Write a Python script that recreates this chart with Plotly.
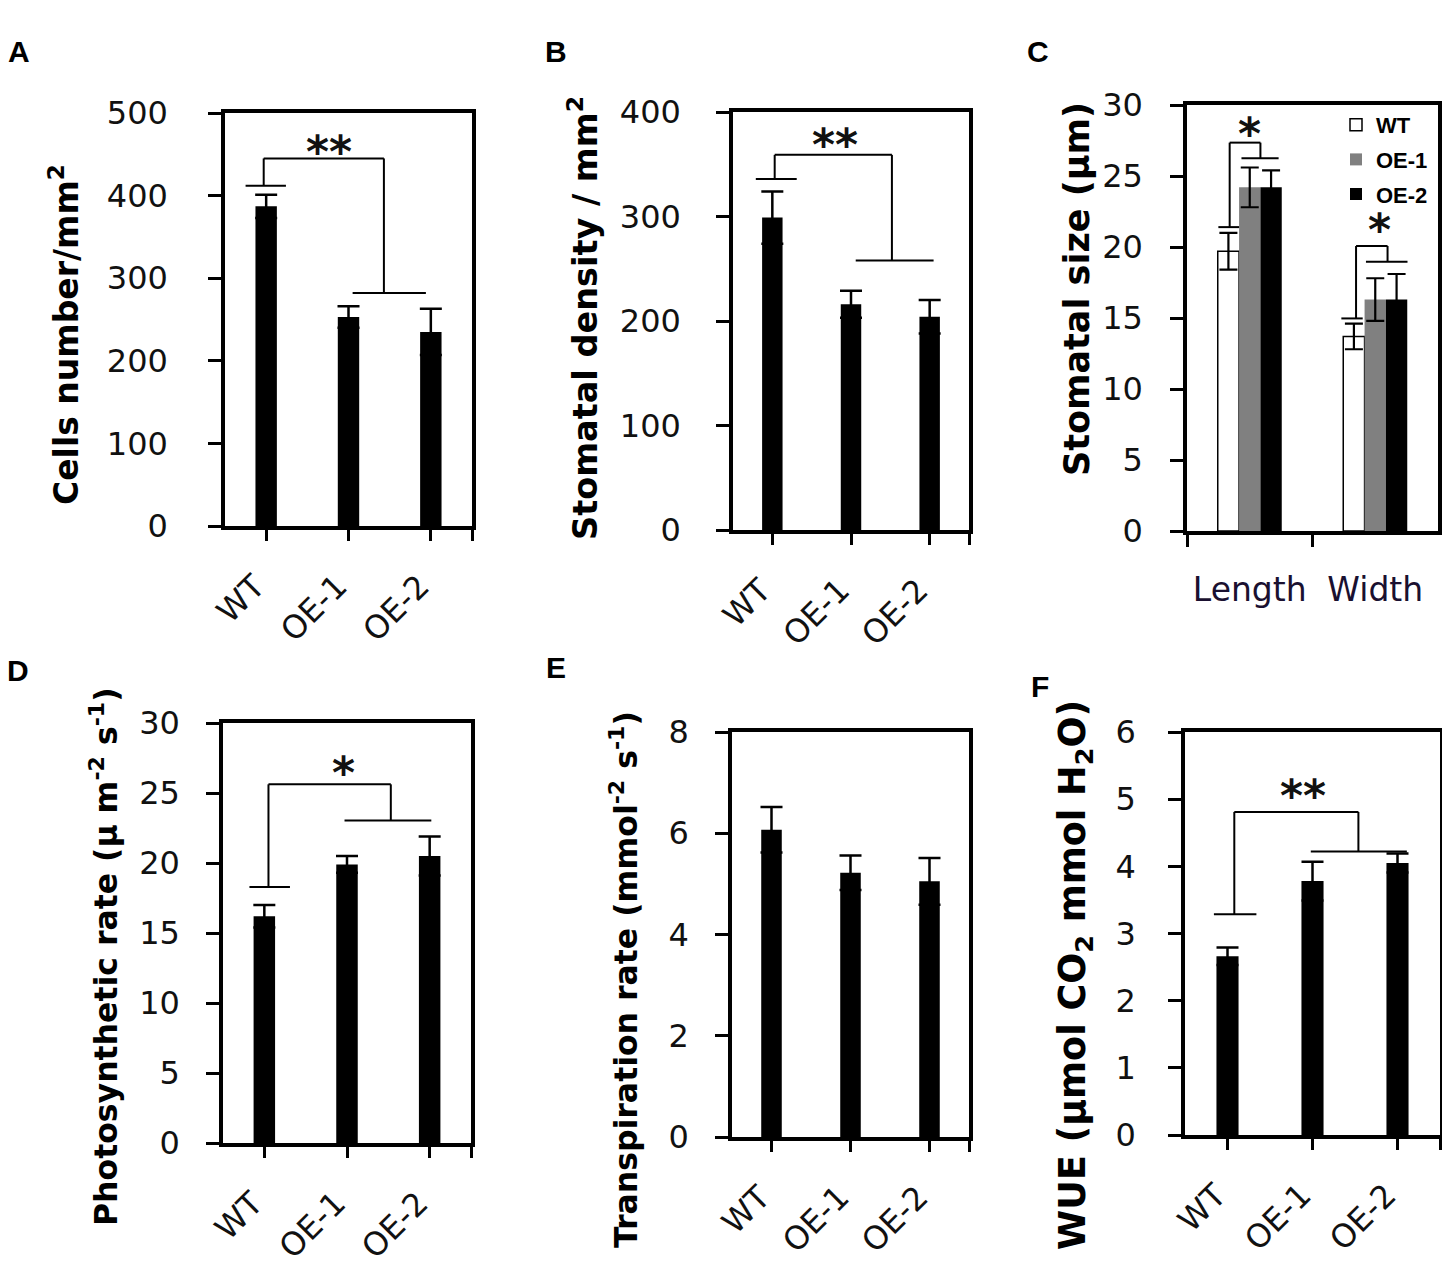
import plotly.graph_objects as go

W, H = 1450, 1267

# ---------------- data ----------------
genotypes = ["WT", "OE-1", "OE-2"]

cells = [387, 253, 235]
cells_err = [14, 13, 28]

density = [299, 216, 204]
density_err = [25, 13, 16]

size_cats = ["Length", "Width"]
size_wt = [19.7, 13.7]
size_wt_err = [1.3, 0.9]
size_oe1 = [24.2, 16.3]
size_oe1_err = [1.4, 1.5]
size_oe2 = [24.2, 16.3]
size_oe2_err = [1.2, 1.8]

photo = [16.2, 19.9, 20.5]
photo_err = [0.8, 0.6, 1.4]

transp = [6.07, 5.22, 5.05]
transp_err = [0.45, 0.34, 0.46]

wue = [2.66, 3.78, 4.05]
wue_err = [0.13, 0.29, 0.14]

# ---------------- helpers ----------------
OFF = 8  # page body margin of the browser


def fx(px):
    return (px - OFF) / W


def fy(py):
    return 1 - (py - OFF) / H


FRAME_W = 3.5
TICK_FONT = dict(family="DejaVu Sans", size=32, color="#111111")
XTICK_FONT = dict(family="DejaVu Sans", size=32, color="#111111")
TITLE_FAM = "DejaVu Sans"

fig = go.Figure()

# panel geometry in pixels: (x0, x1, ytop, ybottom)
panels = {
    "A": dict(idx=1, box=(225, 472, 113, 526), ymax=500, dtick=100, ystand=34,
              vals=cells, errs=cells_err),
    "B": dict(idx=2, box=(733, 969, 112, 530), ymax=400, dtick=100, ystand=29,
              vals=density, errs=density_err),
    "D": dict(idx=4, box=(223, 471, 723, 1143), ymax=30, dtick=5, ystand=20,
              vals=photo, errs=photo_err),
    "E": dict(idx=5, box=(732, 969, 732, 1137), ymax=8, dtick=2, ystand=20,
              vals=transp, errs=transp_err),
    "F": dict(idx=6, box=(1185, 1440, 732, 1135), ymax=6, dtick=1, ystand=26,
              vals=wue, errs=wue_err),
}
panelC = dict(idx=3, box=(1187, 1438, 105, 531), ymax=30, dtick=5, ystand=21)


def axis_names(i):
    return ("x" if i == 1 else f"x{i}", "y" if i == 1 else f"y{i}")


def layout_names(i):
    return ("xaxis" if i == 1 else f"xaxis{i}", "yaxis" if i == 1 else f"yaxis{i}")


common_axis = dict(showline=True, mirror=True, linewidth=FRAME_W, linecolor="black",
                   ticks="outside", tickwidth=3, tickcolor="black", showgrid=False,
                   zeroline=False, tickfont=TICK_FONT, fixedrange=True,
                   automargin=False)

layout_axes = {}

for key, p in panels.items():
    i = p["idx"]
    xn, yn = axis_names(i)
    xl, yl = layout_names(i)
    x0, x1, yt, yb = p["box"]
    fig.add_trace(go.Bar(
        x=list(range(len(genotypes))), y=p["vals"], xaxis=xn, yaxis=yn,
        width=0.26, marker=dict(color="black", line=dict(width=0)),
        error_y=dict(type="data", array=p["errs"], visible=True, color="black",
                     thickness=2.5, width=11),
        showlegend=False, hoverinfo="skip"))
    layout_axes[xl] = dict(common_axis, domain=[fx(x0), fx(x1)], anchor=yn,
                           range=[-0.5, 2.5], tickvals=[0, 1, 2],
                           ticktext=genotypes, tickangle=-45, ticklen=11,
                           tickfont=XTICK_FONT,
                           ticklabelstandoff=14, ticklabelshift=-11,
                           minor=dict(tickvals=[2.5], ticks="outside", ticklen=11,
                                      tickwidth=3, tickcolor="black", showgrid=False))
    layout_axes[yl] = dict(common_axis, domain=[fy(yb), fy(yt)], anchor=xn,
                           range=[0, p["ymax"]], dtick=p["dtick"], tick0=0,
                           ticklen=13, ticklabelstandoff=p["ystand"])

# panel C grouped bars
iC = panelC["idx"]
xnC, ynC = axis_names(iC)
xlC, ylC = layout_names(iC)
x0, x1, yt, yb = panelC["box"]
size_series = [
    ("WT", size_wt, size_wt_err, "white"),
    ("OE-1", size_oe1, size_oe1_err, "#808080"),
    ("OE-2", size_oe2, size_oe2_err, "black"),
]
for name, vals, errs, col in size_series:
    fig.add_trace(go.Bar(
        x=size_cats, y=vals, name=name, xaxis=xnC, yaxis=ynC,
        legendgroup=name,
        marker=dict(color=col, line=dict(color="black", width=1.5 if col == "white" else 0)),
        error_y=dict(type="data", array=errs, visible=True, color="black",
                     thickness=2.2, width=9),
        hoverinfo="skip"))
layout_axes[xlC] = dict(common_axis, domain=[fx(x0), fx(x1)], anchor=ynC,
                        type="category", tickson="boundaries", ticklen=12,
                        tickfont=dict(family="DejaVu Sans", size=33, color="#1a1030"),
                        ticklabelstandoff=27)
layout_axes[ylC] = dict(common_axis, domain=[fy(yb), fy(yt)], anchor=xnC,
                        range=[0, panelC["ymax"]], dtick=panelC["dtick"], tick0=0,
                        ticklen=13, ticklabelstandoff=panelC["ystand"])

# ---------------- significance brackets ----------------
# (left foot x0, x1, left foot y, left vertical x, top y, right vertical x,
#  right foot y, right foot x0, x1, star x, star y, star text)
brackets = [
    (1, (-0.25, 0.24, 412, -0.03, 445, 1.43, 282, 1.05, 1.94, 0.76, 461, "**")),
    (2, (-0.21, 0.31, 336, 0.03, 359, 1.52, 258, 1.06, 2.05, 0.80, 375, "**")),
    (3, (-0.25, -0.085, 21.4, -0.16, 27.35, 0.085, 26.25, -0.066, 0.23, 0.0, 28.4, "*")),
    (3, (0.73, 0.90, 14.97, 0.847, 20.07, 1.098, 18.96, 0.926, 1.257, 1.03, 21.66, "*")),
    (4, (-0.18, 0.31, 18.28, 0.05, 25.62, 1.53, 23.04, 0.97, 2.02, 0.96, 26.87, "*")),
    (6, (-0.16, 0.34, 3.285, 0.08, 4.81, 1.54, 4.22, 0.98, 2.11, 0.89, 5.14, "**")),
]

shapes = []
annotations = []
for i, b in brackets:
    lf0, lf1, ly, lv, top, rv, ry, rf0, rf1, sx, sy, st = b
    xn, yn = axis_names(i)
    segs = [
        (lf0, ly, lf1, ly),
        (lv, ly, lv, top),
        (lv, top, rv, top),
        (rv, top, rv, ry),
        (rf0, ry, rf1, ry),
    ]
    for (a, bb, c, d) in segs:
        shapes.append(dict(type="line", xref=xn, yref=yn, x0=a, y0=bb, x1=c, y1=d,
                           line=dict(color="black", width=2)))
    annotations.append(dict(xref=xn, yref=yn, x=sx, y=sy, text=f"<b>{st}</b>",
                            showarrow=False, yshift=-6,
                            font=dict(family="DejaVu Sans", size=44, color="#111111")))

# ---------------- y-axis titles ----------------
titles = [
    ("Cells number/mm<sup>2</sup>", 64, 335, 33),
    ("Stomatal density / mm<sup>2</sup>", 583, 318, 33.5),
    ("Stomatal size (μm)", 1077, 289, 35),
    ("Photosynthetic rate (μ m<sup>-2</sup> s<sup>-1</sup>)", 104, 957, 31.5),
    ("Transpiration rate (mmol<sup>-2</sup> s<sup>-1</sup>)", 624, 980, 31.5),
    ("WUE (μmol CO<sub>2</sub> mmol H<sub>2</sub>O)", 1075, 975, 36.5),
]
for txt, cx, cy, fs in titles:
    annotations.append(dict(xref="paper", yref="paper", x=fx(cx), y=fy(cy),
                            text=f"<b>{txt}</b>", textangle=-90, showarrow=False,
                            xanchor="center", yanchor="middle",
                            font=dict(family=TITLE_FAM, size=fs, color="black")))

# ---------------- panel letters ----------------
letters = [("A", 19, 52), ("B", 556, 52), ("C", 1038, 52),
           ("D", 18, 670), ("E", 556, 668), ("F", 1040, 686)]
for t, cx, cy in letters:
    annotations.append(dict(xref="paper", yref="paper", x=fx(cx), y=fy(cy),
                            text=f"<b>{t}</b>", showarrow=False,
                            xanchor="center", yanchor="middle",
                            font=dict(family="Liberation Sans", size=30, color="black")))

fig.update_layout(
    width=W, height=H, margin=dict(l=0, r=0, t=0, b=0, autoexpand=False),
    paper_bgcolor="white", plot_bgcolor="white",
    barmode="group", bargap=0.49, bargroupgap=0,
    showlegend=True,
    legend=dict(x=fx(1336), y=fy(104), xanchor="left", yanchor="top",
                bgcolor="rgba(0,0,0,0)", traceorder="grouped", tracegroupgap=3,
                itemwidth=30,
                font=dict(family="Liberation Sans", size=22, color="black", weight="bold")),
    shapes=shapes, annotations=annotations,
    **layout_axes,
)

fig.write_html("out.html")
